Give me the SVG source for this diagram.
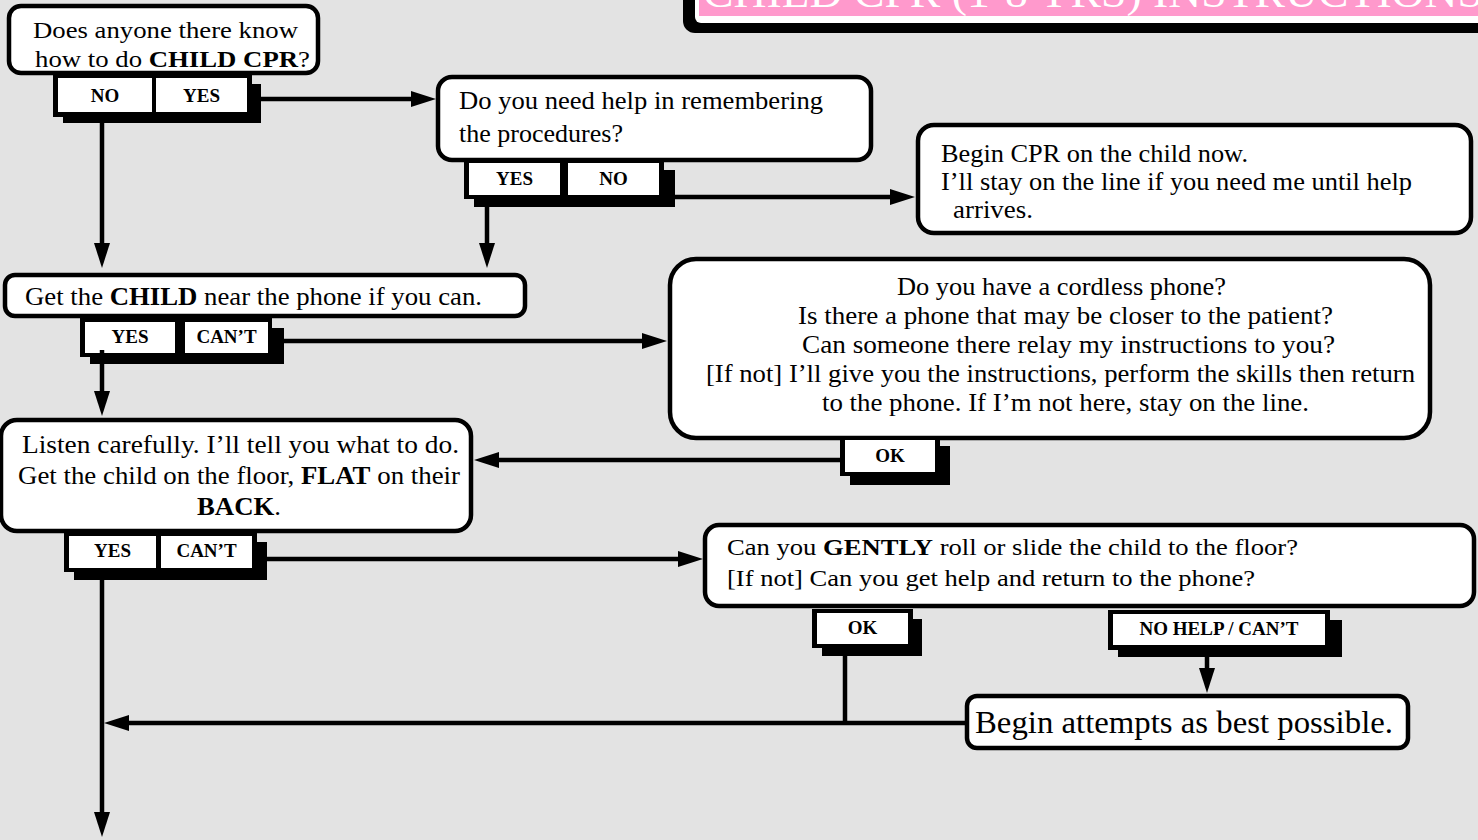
<svg xmlns="http://www.w3.org/2000/svg" width="1478" height="840" viewBox="0 0 1478 840">
<style>
.bg{fill:#e3e3e3}
.box{fill:#fff;stroke:#000;stroke-width:4.5}
.t{font-family:"Liberation Serif","Times New Roman",serif;fill:#000}
.b{font-weight:bold}
.bt{font-family:"Liberation Serif","Times New Roman",serif;font-weight:bold;font-size:19px;fill:#000;text-anchor:middle}
.blk{fill:#000}
.wh{fill:#fff}
.conn{stroke:#000;stroke-width:4.5;fill:none}
</style>
<defs>
<marker id="ah" markerUnits="userSpaceOnUse" markerWidth="26" markerHeight="18" refX="13" refY="8" orient="auto"><path d="M0,0 L25,8 L0,16 z" fill="#000"/></marker>
</defs>
<rect class="bg" x="0" y="0" width="1478" height="840"/>

<g id="title">
<rect class="blk" x="683" y="-40" width="850" height="73" rx="12"/>
<rect class="wh" x="695" y="-40" width="850" height="63" rx="6"/>
<rect fill="#ff99cc" x="699" y="-40" width="850" height="56"/>
<text class="t" x="703" y="7" font-size="42" style="fill:#fff" textLength="780" lengthAdjust="spacingAndGlyphs">CHILD CPR (1-8 YRS) INSTRUCTIONS</text>
</g>

<g id="node1">
<rect class="box" x="9" y="6" width="309" height="67" rx="12"/>
<text class="t" x="33" y="38" font-size="23" textLength="265" lengthAdjust="spacingAndGlyphs">Does anyone there know</text>
<text class="t" x="35" y="67" font-size="23" textLength="275" lengthAdjust="spacingAndGlyphs">how to do <tspan class="b">CHILD CPR</tspan>?</text>
<rect class="blk" x="63" y="84" width="198" height="39"/>
<rect class="blk" x="53" y="74" width="199" height="43"/>
<rect class="wh" x="58" y="78" width="94" height="34"/>
<rect class="wh" x="156" y="78" width="91" height="34"/>
<text class="bt" x="105" y="102">NO</text>
<text class="bt" x="201.5" y="102">YES</text>
</g>

<g id="node2">
<rect class="box" x="438" y="77" width="433" height="83" rx="14"/>
<text class="t" x="459" y="109" font-size="25" textLength="364" lengthAdjust="spacingAndGlyphs">Do you need help in remembering</text>
<text class="t" x="459" y="142" font-size="25" textLength="164" lengthAdjust="spacingAndGlyphs">the procedures?</text>
<rect class="blk" x="474" y="170" width="201" height="37"/>
<rect class="blk" x="464" y="160" width="200" height="39"/>
<rect class="wh" x="469" y="163" width="91" height="32"/>
<rect class="wh" x="568" y="163" width="91" height="32"/>
<text class="bt" x="514.5" y="185">YES</text>
<text class="bt" x="613.5" y="185">NO</text>
</g>

<g id="begin-cpr">
<rect class="box" x="918" y="125" width="553" height="108" rx="16"/>
<text class="t" x="941" y="162" font-size="25" textLength="307" lengthAdjust="spacingAndGlyphs">Begin CPR on the child now.</text>
<text class="t" x="941" y="190" font-size="25" textLength="471" lengthAdjust="spacingAndGlyphs">I’ll stay on the line if you need me until help</text>
<text class="t" x="953" y="218" font-size="25" textLength="80" lengthAdjust="spacingAndGlyphs">arrives.</text>
</g>

<g id="node3">
<rect class="box" x="5" y="275" width="520" height="41" rx="10"/>
<text class="t" x="25" y="305" font-size="25" textLength="457" lengthAdjust="spacingAndGlyphs">Get the <tspan class="b">CHILD</tspan> near the phone if you can.</text>
<rect class="blk" x="90" y="328" width="194" height="36"/>
<rect class="blk" x="80" y="318" width="192" height="39"/>
<rect class="wh" x="85" y="322" width="90" height="31"/>
<rect class="wh" x="185" y="322" width="83" height="31"/>
<text class="bt" x="130" y="343">YES</text>
<text class="bt" x="226.5" y="343">CAN’T</text>
</g>

<g id="phone">
<rect class="box" x="670" y="259" width="760" height="179" rx="26"/>
<text class="t" x="897" y="295" font-size="25" textLength="329" lengthAdjust="spacingAndGlyphs">Do you have a cordless phone?</text>
<text class="t" x="798" y="324" font-size="25" textLength="535" lengthAdjust="spacingAndGlyphs">Is there a phone that may be closer to the patient?</text>
<text class="t" x="802" y="353" font-size="25" textLength="533" lengthAdjust="spacingAndGlyphs">Can someone there relay my instructions to you?</text>
<text class="t" x="706" y="382" font-size="25" textLength="709" lengthAdjust="spacingAndGlyphs">[If not] I’ll give you the instructions, perform the skills then return</text>
<text class="t" x="822" y="411" font-size="25" textLength="487" lengthAdjust="spacingAndGlyphs">to the phone. If I’m not here, stay on the line.</text>
<rect class="blk" x="850" y="446" width="100" height="39"/>
<rect class="blk" x="840" y="436" width="100" height="40"/>
<rect class="wh" x="845" y="440" width="90" height="32"/>
<text class="bt" x="890" y="462">OK</text>
</g>

<g id="node4">
<rect class="box" x="1" y="420" width="470" height="111" rx="16"/>
<text class="t" x="22" y="453" font-size="25" textLength="437" lengthAdjust="spacingAndGlyphs">Listen carefully.  I’ll tell you what to do.</text>
<text class="t" x="18" y="484" font-size="25" textLength="442" lengthAdjust="spacingAndGlyphs">Get the child on the floor, <tspan class="b">FLAT</tspan> on their</text>
<text class="t" x="197" y="515" font-size="25" textLength="84" lengthAdjust="spacingAndGlyphs"><tspan class="b">BACK</tspan>.</text>
<rect class="blk" x="74" y="542" width="193" height="38"/>
<rect class="blk" x="64" y="532" width="193" height="40"/>
<rect class="wh" x="69" y="536" width="87" height="32"/>
<rect class="wh" x="161" y="536" width="91" height="32"/>
<text class="bt" x="112.5" y="557">YES</text>
<text class="bt" x="206.5" y="557">CAN’T</text>
</g>

<g id="node5">
<rect class="box" x="705" y="525" width="769" height="81" rx="14"/>
<text class="t" x="727" y="555" font-size="24" textLength="571" lengthAdjust="spacingAndGlyphs">Can you <tspan class="b">GENTLY</tspan> roll or slide the child to the floor?</text>
<text class="t" x="727" y="586" font-size="24" textLength="528" lengthAdjust="spacingAndGlyphs">[If not] Can you get help and return to the phone?</text>
<rect class="blk" x="822" y="619" width="100" height="37"/>
<rect class="blk" x="812" y="609" width="101" height="39"/>
<rect class="wh" x="817" y="613" width="91" height="31"/>
<text class="bt" x="862.5" y="634">OK</text>
<rect class="blk" x="1118" y="620" width="224" height="37"/>
<rect class="blk" x="1108" y="610" width="222" height="40"/>
<rect class="wh" x="1113" y="614" width="212" height="31"/>
<text class="bt" x="1219" y="635">NO HELP / CAN’T</text>
</g>

<g id="begin-attempts">
<rect class="box" x="967" y="696" width="441" height="52" rx="10"/>
<text class="t" x="975" y="733" font-size="31" textLength="418" lengthAdjust="spacingAndGlyphs">Begin attempts as best possible.</text>
</g>

<g id="connectors">
<path class="conn" d="M261,99 H424" marker-end="url(#ah)"/>
<path class="conn" d="M102,123 V256" marker-end="url(#ah)"/>
<path class="conn" d="M675,197 H903" marker-end="url(#ah)"/>
<path class="conn" d="M487,207 V256" marker-end="url(#ah)"/>
<path class="conn" d="M284,341 H655" marker-end="url(#ah)"/>
<path class="conn" d="M102,350 V404" marker-end="url(#ah)"/>
<path class="conn" d="M840,460 H486" marker-end="url(#ah)"/>
<path class="conn" d="M267,559 H691" marker-end="url(#ah)"/>
<path class="conn" d="M102,580 V825" marker-end="url(#ah)"/>
<path class="conn" d="M845,656 V723"/>
<path class="conn" d="M967,723 H116" marker-end="url(#ah)"/>
<path class="conn" d="M1207,657 V681" marker-end="url(#ah)"/>
</g>
</svg>
